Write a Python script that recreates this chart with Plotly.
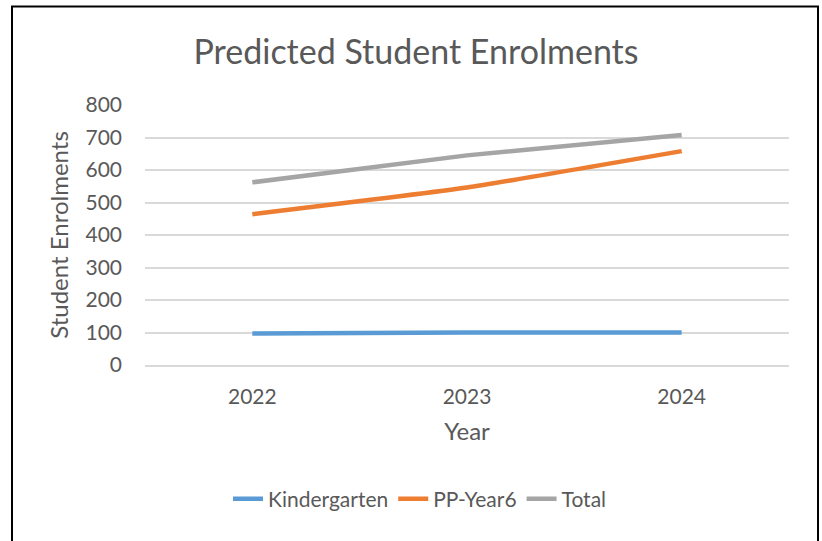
import plotly.graph_objects as go

years = ["2022", "2023", "2024"]
kindergarten = [97, 100, 100]
pp_year6 = [464, 546, 658]
total = [562, 645, 708]
y_ticks = [0, 100, 200, 300, 400, 500, 600, 700, 800]

W, H = 822, 541
L, R, T, B = 145, 33, 105, 176
pw, ph = W - L - R, H - T - B

font_family = "Lato, 'Open Sans', sans-serif"
txt = "#595959"

fig = go.Figure()
for name, vals, col in [("Kindergarten", kindergarten, "#5B9BD5"),
                        ("PP-Year6", pp_year6, "#ED7D31"),
                        ("Total", total, "#A5A5A5")]:
    fig.add_trace(go.Scatter(x=years, y=vals, mode="lines", name=name,
                             line=dict(color=col, width=4.5, shape="spline", smoothing=0.4)))

fig.update_layout(
    width=W, height=H,
    margin=dict(l=L, r=R, t=T, b=B),
    paper_bgcolor="white", plot_bgcolor="white",
    font=dict(family=font_family, color=txt, size=21),
    title=dict(text="Predicted Student Enrolments", x=416 / W, xanchor="center",
               y=1 - 52 / H, yanchor="middle",
               font=dict(size=34, color=txt, family=font_family)),
    xaxis=dict(type="category", range=[-0.5, 2.5], showgrid=False, showline=True,
               linecolor="#D9D9D9", linewidth=1.5, ticks="", tickfont=dict(size=21, color=txt),
               ticklabelstandoff=12,
               title=dict(text="Year", font=dict(size=24, color=txt), standoff=16)),
    yaxis=dict(range=[0, 800], tickvals=y_ticks, showgrid=True, gridcolor="#D9D9D9",
               gridwidth=1.5, zeroline=False, showline=False, ticks="",
               tickfont=dict(size=21, color=txt), ticklabelstandoff=22,
               title=dict(text="Student Enrolments", font=dict(size=24, color=txt), standoff=10)),
    legend=dict(orientation="h", x=(420 - L) / pw, xanchor="center",
                y=-(499 - (T + ph)) / ph, yanchor="middle",
                font=dict(size=21, color=txt), tracegroupgap=0),
    showlegend=True,
)

# outer chart border
fig.add_shape(type="rect", xref="paper", yref="paper",
              x0=(12 - L) / pw, x1=(818 - L) / pw,
              y0=-(560 - (T + ph)) / ph, y1=1 + (T - 6.5) / ph,
              line=dict(color="black", width=2), fillcolor="rgba(0,0,0,0)", layer="above")

fig.write_html("out.html", config={"displayModeBar": False},
               post_script="document.body.style.margin='0';")
